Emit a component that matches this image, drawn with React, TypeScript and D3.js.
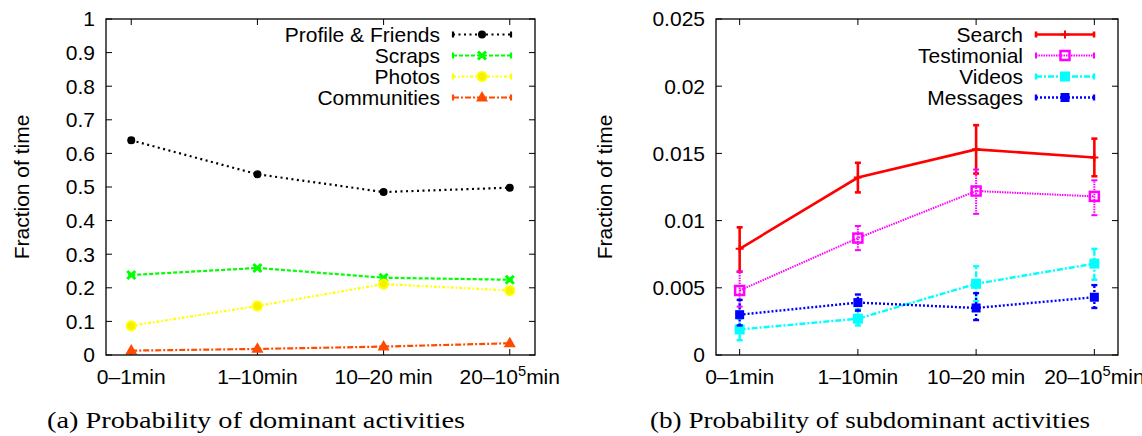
import React from "react";
import * as d3 from "d3";

// Session-length buckets shared by both panels ("^" marks a superscript)
const categories = ["0–1min", "1–10min", "10–20 min", "20–10^5min"];

// (a) dominant activities: mean fraction of time and error-bar bounds
const profileFriends = [0.639, 0.538, 0.485, 0.498];
const profileFriendsLo = [0.633, 0.535, 0.481, 0.495];
const profileFriendsHi = [0.645, 0.541, 0.489, 0.501];
const scraps = [0.238, 0.259, 0.23, 0.224];
const scrapsLo = [0.235, 0.256, 0.227, 0.221];
const scrapsHi = [0.241, 0.262, 0.233, 0.227];
const photos = [0.087, 0.146, 0.211, 0.192];
const photosLo = [0.084, 0.143, 0.208, 0.189];
const photosHi = [0.09, 0.149, 0.214, 0.195];
const communities = [0.013, 0.018, 0.025, 0.035];
const communitiesLo = [0.012, 0.017, 0.024, 0.034];
const communitiesHi = [0.014, 0.019, 0.026, 0.036];

// (b) subdominant activities
const search = [0.0079, 0.0132, 0.0153, 0.0147];
const searchLo = [0.0062, 0.0121, 0.0135, 0.0133];
const searchHi = [0.0095, 0.0143, 0.0171, 0.0161];
const testimonial = [0.0048, 0.0087, 0.0122, 0.0118];
const testimonialLo = [0.0036, 0.0078, 0.0105, 0.0104];
const testimonialHi = [0.0062, 0.0096, 0.0138, 0.013];
const videos = [0.0019, 0.0027, 0.0053, 0.0068];
const videosLo = [0.0011, 0.0022, 0.004, 0.0056];
const videosHi = [0.0027, 0.0034, 0.0066, 0.0079];
const messages = [0.003, 0.0039, 0.0035, 0.0043];
const messagesLo = [0.0022, 0.0033, 0.0026, 0.0035];
const messagesHi = [0.0041, 0.0045, 0.0046, 0.0052];

const leftTicks = [0, 0.1, 0.2, 0.3, 0.4, 0.5, 0.6, 0.7, 0.8, 0.9, 1];
const rightTicks = [0, 0.005, 0.01, 0.015, 0.02, 0.025];

const FONT = "'Liberation Sans', Arial, Helvetica, sans-serif";
const SERIF = "'Liberation Serif', 'DejaVu Serif', serif";
const FS = 21;

type MarkerKind = "dot" | "cross" | "circle" | "triangle" | "plus" | "openSquare" | "square";

type Series = {
  name: string;
  values: number[];
  lo: number[];
  hi: number[];
  color: string;
  width: number;
  dash: string;
  marker: MarkerKind;
  size: number;
};

const leftSeries: Series[] = [
  { name: "Profile & Friends", values: profileFriends, lo: profileFriendsLo, hi: profileFriendsHi, color: "#000000", width: 2.2, dash: "2,3.5", marker: "dot", size: 4 },
  { name: "Scraps", values: scraps, lo: scrapsLo, hi: scrapsHi, color: "#00ff00", width: 2.2, dash: "4,2", marker: "cross", size: 4 },
  { name: "Photos", values: photos, lo: photosLo, hi: photosHi, color: "#ffff00", width: 2.2, dash: "3,2,1.5,2", marker: "circle", size: 4.5 },
  { name: "Communities", values: communities, lo: communitiesLo, hi: communitiesHi, color: "#ff4a00", width: 2.2, dash: "6,2,2,2", marker: "triangle", size: 6 },
];

const rightSeries: Series[] = [
  { name: "Search", values: search, lo: searchLo, hi: searchHi, color: "#ff0000", width: 2.6, dash: "", marker: "plus", size: 4 },
  { name: "Testimonial", values: testimonial, lo: testimonialLo, hi: testimonialHi, color: "#ff00ff", width: 2, dash: "1.5,1", marker: "openSquare", size: 4.5 },
  { name: "Videos", values: videos, lo: videosLo, hi: videosHi, color: "#00ffff", width: 2.4, dash: "6,2,2,2", marker: "square", size: 5 },
  { name: "Messages", values: messages, lo: messagesLo, hi: messagesHi, color: "#0000ff", width: 2.4, dash: "2,2", marker: "square", size: 4.5 },
];

function Marker({ kind, x, y, color, size }: { kind: MarkerKind; x: number; y: number; color: string; size: number }) {
  const s = size;
  switch (kind) {
    case "dot":
      return <circle cx={x} cy={y} r={s} fill={color} />;
    case "cross":
      return (
        <path d={`M${x - s},${y - s}L${x + s},${y + s}M${x - s},${y + s}L${x + s},${y - s}`} stroke={color} strokeWidth={3} />
      );
    case "circle":
      return <circle cx={x} cy={y} r={s} fill="#f4f000" stroke={color} strokeWidth={2} />;
    case "triangle":
      return <path d={`M${x},${y - s * 1.1}L${x + s},${y + s * 0.65}L${x - s},${y + s * 0.65}Z`} fill={color} />;
    case "plus":
      return <path d={`M${x - s},${y}L${x + s},${y}M${x},${y - s}L${x},${y + s}`} stroke={color} strokeWidth={2} />;
    case "openSquare":
      return <rect x={x - s} y={y - s} width={2 * s} height={2 * s} fill="none" stroke={color} strokeWidth={2.5} />;
    case "square":
      return <rect x={x - s} y={y - s} width={2 * s} height={2 * s} fill={color} />;
  }
}

function CategoryLabel({ text, x, y }: { text: string; x: number; y: number }) {
  const i = text.indexOf("^");
  if (i < 0) {
    return (
      <text x={x} y={y} textAnchor="middle">
        {text}
      </text>
    );
  }
  return (
    <text x={x} y={y} textAnchor="middle">
      {text.slice(0, i)}
      <tspan dy={-8} fontSize={FS * 0.7}>
        {text.slice(i + 1, i + 2)}
      </tspan>
      <tspan dy={8}>{text.slice(i + 2)}</tspan>
    </text>
  );
}

type PanelProps = {
  x0: number;
  x1: number;
  y0: number;
  y1: number;
  yMax: number;
  ticks: number[];
  series: Series[];
  titleX: number;
  caption: string;
  captionX: number;
  captionWidth: number;
};

function Panel({ x0, x1, y0, y1, yMax, ticks, series, titleX, caption, captionX, captionWidth }: PanelProps) {
  const x = d3.scaleLinear().domain([-0.2, 3.2]).range([x0, x1]);
  const y = d3.scaleLinear().domain([0, yMax]).range([y1, y0]);
  const idx = categories.map((_, i) => i);
  const tl = 6;
  const capW = 3;

  const legendTextX = x1 - 95;
  const sampleA = x1 - 82;
  const sampleB = x1 - 24;
  const rowY = (i: number) => 34.5 + 21 * i;

  return (
    <g fontFamily={FONT} fontSize={FS} fill="#000">
      {/* y ticks, mirrored on the right border */}
      {ticks.map((t) => (
        <g key={`y${t}`}>
          <line x1={x0} x2={x0 + tl} y1={y(t)} y2={y(t)} stroke="#000" strokeWidth={1} />
          <line x1={x1} x2={x1 - tl} y1={y(t)} y2={y(t)} stroke="#000" strokeWidth={1} />
          <text x={x0 - 11} y={y(t)} dy="0.35em" textAnchor="end">
            {String(t)}
          </text>
        </g>
      ))}
      {/* x ticks, mirrored on the top border */}
      {idx.map((i) => (
        <g key={`x${i}`}>
          <line x1={x(i)} x2={x(i)} y1={y1} y2={y1 - tl} stroke="#000" strokeWidth={1} />
          <line x1={x(i)} x2={x(i)} y1={y0} y2={y0 + tl} stroke="#000" strokeWidth={1} />
          <CategoryLabel text={categories[i]} x={x(i)} y={384} />
        </g>
      ))}

      {/* series: error bars, lines, markers */}
      {series.map((s) => {
        const line = d3
          .line<number>()
          .x((_, i) => x(i))
          .y((v) => y(v));
        return (
          <g key={s.name}>
            {s.values.map((v, i) => (
              <g key={i} stroke={s.color} strokeWidth={s.width} strokeDasharray={s.dash || undefined}>
                <line x1={x(i)} x2={x(i)} y1={y(s.lo[i])} y2={y(s.hi[i])} />
                <line x1={x(i) - capW} x2={x(i) + capW} y1={y(s.lo[i])} y2={y(s.lo[i])} strokeDasharray="none" />
                <line x1={x(i) - capW} x2={x(i) + capW} y1={y(s.hi[i])} y2={y(s.hi[i])} strokeDasharray="none" />
              </g>
            ))}
            <path d={line(s.values) || ""} fill="none" stroke={s.color} strokeWidth={s.width} strokeDasharray={s.dash || undefined} />
            {s.values.map((v, i) => (
              <Marker key={i} kind={s.marker} x={x(i)} y={y(v)} color={s.color} size={s.size} />
            ))}
          </g>
        );
      })}

      {/* legend */}
      {series.map((s, i) => (
        <g key={`leg${s.name}`}>
          <text x={legendTextX} y={rowY(i)} dy="0.35em" textAnchor="end">
            {s.name}
          </text>
          <line x1={sampleA} x2={sampleB} y1={rowY(i)} y2={rowY(i)} stroke={s.color} strokeWidth={s.width} strokeDasharray={s.dash || undefined} />
          <line x1={sampleA} x2={sampleA} y1={rowY(i) - capW} y2={rowY(i) + capW} stroke={s.color} strokeWidth={s.width} />
          <line x1={sampleB} x2={sampleB} y1={rowY(i) - capW} y2={rowY(i) + capW} stroke={s.color} strokeWidth={s.width} />
          <Marker kind={s.marker} x={(sampleA + sampleB) / 2} y={rowY(i)} color={s.color} size={s.size} />
        </g>
      ))}

      {/* frame */}
      <rect x={x0} y={y0} width={x1 - x0} height={y1 - y0} fill="none" stroke="#000" strokeWidth={1.3} />

      {/* axis title */}
      <text transform={`translate(${titleX},${(y0 + y1) / 2}) rotate(-90)`} textAnchor="middle" dy="0.35em">
        Fraction of time
      </text>

      {/* caption */}
      <text
        x={captionX}
        y={428}
        textAnchor="middle"
        fontFamily={SERIF}
        fontSize={24}
        textLength={captionWidth}
        lengthAdjust="spacingAndGlyphs"
      >
        {caption}
      </text>
    </g>
  );
}

export default function App() {
  return (
    <svg
      width={1142}
      height={436}
      viewBox="0 0 1142 436"
      style={{ position: "absolute", left: 0, top: 0, background: "#fff" }}
    >
      <rect width={1142} height={436} fill="#fff" />
      <Panel
        x0={106}
        x1={535}
        y0={19}
        y1={355}
        yMax={1}
        ticks={leftTicks}
        series={leftSeries}
        titleX={22}
        caption="(a) Probability of dominant activities"
        captionX={256}
        captionWidth={418}
      />
      <Panel
        x0={716}
        x1={1118}
        y0={19}
        y1={355}
        yMax={0.025}
        ticks={rightTicks}
        series={rightSeries}
        titleX={605}
        caption="(b) Probability of subdominant activities"
        captionX={870}
        captionWidth={440}
      />
    </svg>
  );
}
